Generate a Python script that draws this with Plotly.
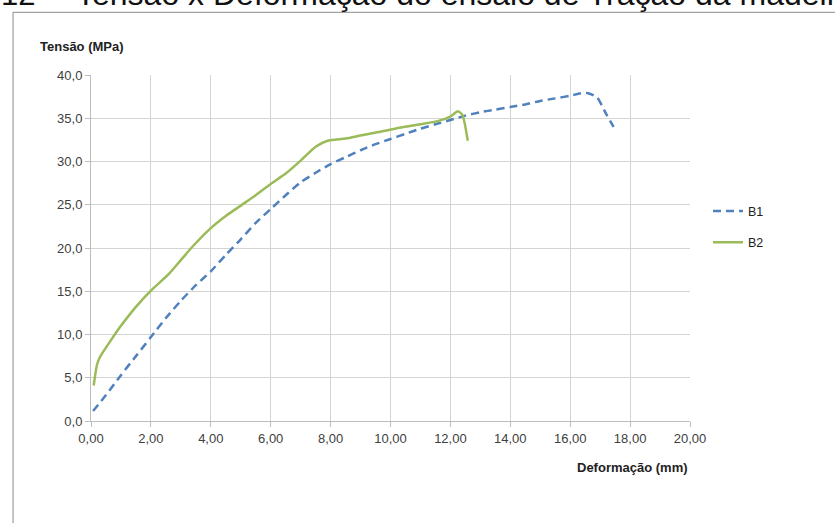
import plotly.graph_objects as go

# Data
b1_x = [0.07, 0.5, 1.0, 1.5, 2.0, 2.5, 3.0, 3.5, 4.0, 4.5, 5.0, 5.5, 6.0, 6.5, 7.0, 7.5, 8.0, 8.5,
        9.0, 9.5, 10.0, 10.5, 11.0, 11.5, 12.0, 12.5, 13.0, 13.5, 14.0, 14.5, 15.0, 15.5, 16.0,
        16.3, 16.6, 16.9, 17.2, 17.45]
b1_y = [1.15, 3.0, 5.3, 7.5, 9.7, 11.9, 13.9, 15.7, 17.3, 19.2, 21.0, 22.9, 24.5, 26.1, 27.6, 28.7,
        29.7, 30.5, 31.3, 32.0, 32.6, 33.2, 33.8, 34.3, 34.8, 35.3, 35.7, 36.0, 36.3, 36.6, 37.0,
        37.3, 37.6, 37.85, 37.9, 37.4, 35.5, 34.0]

b2_x = [0.09, 0.2, 0.3, 0.6, 1.0, 1.5, 2.0, 2.6, 3.0, 3.4, 4.0, 4.5, 5.0, 5.5, 6.0, 6.5, 7.0, 7.5,
        7.9, 8.5, 9.0, 9.6, 10.3, 11.0, 11.6, 12.0, 12.25, 12.4, 12.58]
b2_y = [4.1, 6.5, 7.4, 9.0, 11.0, 13.2, 15.07, 17.0, 18.6, 20.2, 22.3, 23.7, 24.9, 26.1, 27.4, 28.6,
        30.1, 31.7, 32.4, 32.65, 33.0, 33.4, 33.9, 34.3, 34.7, 35.2, 35.8, 35.4, 32.4]

series_names = ["B1", "B2"]
x_title = "Deformação (mm)"
y_title = "Tensão (MPa)"
caption_num = "12"
caption_text = "Tensão x Deformação do ensaio de Tração da madeira"

W, H = 835, 523
L, R, T, B = 90.7, 145, 74.7, 102.3
pw = W - L - R
ph = H - T - B

def px_x(p):
    return (p - L) / pw

def px_y(p):
    return (H - B - p) / ph

FONT = "Liberation Sans, Arial, sans-serif"

fig = go.Figure()
fig.add_trace(go.Scatter(x=b1_x, y=b1_y, mode="lines", name=series_names[0], legendgroup="g1",
                         line=dict(color="#4F81BD", width=2.5, dash="8px,5px", shape="spline", smoothing=0.6)))
fig.add_trace(go.Scatter(x=b2_x, y=b2_y, mode="lines", name=series_names[1], legendgroup="g2",
                         line=dict(color="#9BBB59", width=2.5, shape="spline", smoothing=0.6)))

axis_common = dict(showgrid=True, gridcolor="#D4D4D4", gridwidth=1, zeroline=False,
                   showline=True, linecolor="#BDBDBD", linewidth=1,
                   ticks="outside", ticklen=5, tickcolor="#BDBDBD",
                   tickfont=dict(family=FONT, size=13, color="#404040"))

fig.update_xaxes(range=[0, 20], dtick=2, tickformat=".2f", **axis_common)
fig.update_yaxes(range=[0, 40], dtick=5, tickformat=".1f", **axis_common)

fig.update_layout(
    width=W, height=H,
    margin=dict(l=L, r=R, t=T, b=B, pad=0),
    paper_bgcolor="white", plot_bgcolor="white",
    separators=",.",
    font=dict(family=FONT, size=12, color="#222"),
    showlegend=True,
    legend=dict(x=px_x(708), y=px_y(196), xanchor="left", yanchor="top",
                font=dict(family=FONT, size=12.5, color="#222"),
                tracegroupgap=12, bgcolor="rgba(0,0,0,0)"),
)

# Frame of the embedded chart
fig.add_shape(type="line", xref="paper", yref="paper", x0=px_x(12.7), x1=px_x(12.7), y0=px_y(12), y1=px_y(530),
              line=dict(color="#8A8A8A", width=1))
fig.add_shape(type="line", xref="paper", yref="paper", x0=px_x(12.7), x1=px_x(840), y0=px_y(12), y1=px_y(12),
              line=dict(color="#8A8A8A", width=1))

# Axis titles
fig.add_annotation(text="<b>" + y_title + "</b>", xref="paper", yref="paper", x=px_x(38), y=px_y(46),
                   xanchor="left", yanchor="middle", showarrow=False,
                   font=dict(family=FONT, size=13, color="#222"))
fig.add_annotation(text="<b>" + x_title + "</b>", xref="paper", yref="paper", x=px_x(690), y=px_y(467),
                   xanchor="right", yanchor="middle", showarrow=False,
                   font=dict(family=FONT, size=13, color="#222"))

# Cropped caption at top
fig.add_annotation(text=caption_num, xref="paper", yref="paper", x=px_x(-1), y=px_y(-6),
                   xanchor="left", yanchor="middle", showarrow=False,
                   font=dict(family=FONT, size=31, color="#111"))
fig.add_annotation(text=caption_text, xref="paper", yref="paper", x=px_x(74), y=px_y(-6.5),
                   xanchor="left", yanchor="middle", showarrow=False,
                   font=dict(family=FONT, size=32, color="#111"))

fig.write_html("out.html", config={"displayModeBar": False},
               post_script="document.body.style.margin='0px';")
